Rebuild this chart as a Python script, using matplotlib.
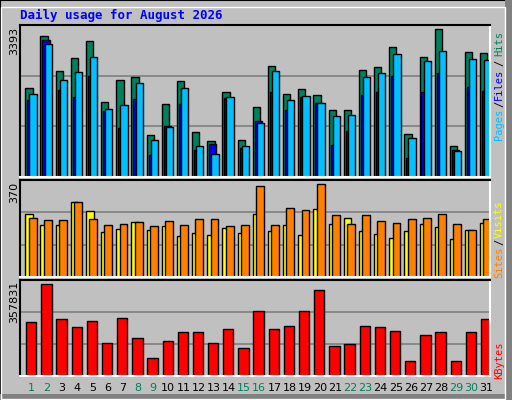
import matplotlib
matplotlib.use("Agg")
import matplotlib.pyplot as plt
from matplotlib.patches import Rectangle
import numpy as np

days = list(range(1, 32))
weekend = [1, 2, 8, 9, 15, 16, 22, 23, 29, 30]
hits = [2034, 3232, 2433, 2725, 3117, 1712, 2218, 2295, 975, 1666, 2203, 1044, 837, 1942, 860, 1620,
        2541, 1896, 2011, 1873, 1551, 1551, 2449, 2518, 2978, 998, 2748, 3393, 722, 2863, 2840]
files = [1765, 3139, 1996, 1835, 2318, 1512, 1121, 1789, 499, 1167, 1673, 614, 768, 1819, 660, 1297,
         1950, 1535, 1842, 1689, 729, 1052, 1873, 1950, 2318, 430, 1950, 2387, 614, 2057, 1973]
pages = [1896, 3055, 2226, 2410, 2756, 1558, 1643, 2157, 860, 1144, 2034, 722, 537, 1827, 706, 1251,
         2433, 1765, 1850, 1689, 1412, 1435, 2287, 2380, 2817, 890, 2656, 2886, 591, 2702, 2679]
sites = [250, 206, 206, 298, 262, 178, 190, 218, 186, 202, 162, 174, 166, 194, 174, 250,
         182, 206, 166, 270, 210, 234, 182, 170, 154, 182, 210, 198, 150, 186, 214]
visits = [234, 226, 226, 298, 230, 206, 210, 218, 202, 222, 206, 230, 230, 202, 206, 362,
          206, 274, 266, 370, 246, 210, 246, 222, 214, 230, 234, 250, 210, 186, 230]
kbytes = [208953, 357831, 220707, 189364, 212871, 130596, 224625, 150185, 71828, 138432, 173693,
          173693, 130596, 185446, 111007, 252050, 185446, 193282, 252050, 334326, 118842, 126678,
          193282, 189364, 177611, 60074, 161939, 173693, 60074, 173693, 220707]

W, H = 512, 400
fig = plt.figure(figsize=(W / 100, H / 100), dpi=100)
fig.patch.set_facecolor("#c0c0c0")
mono = "DejaVu Sans Mono"

def fr(x0, y0, x1, y1):
    return [x0 / W, 1 - y1 / H, (x1 - x0) / W, (y1 - y0) / H]

fig.add_artist(Rectangle((0, 0), 1, 1, transform=fig.transFigure, fill=False, ec="black", lw=1.5))
fig.add_artist(Rectangle((505 / W, 0), 7 / W, 1, transform=fig.transFigure, fc="#808080", ec="none"))
fig.add_artist(Rectangle((0, 0), 1, 6 / H, transform=fig.transFigure, fc="#808080", ec="none"))
fig.add_artist(Rectangle((1 / W, 1 / H), 504 / W, 392 / H, transform=fig.transFigure, fill=False, ec="white", lw=1))

fig.text(20 / W, 1 - 15 / H, "Daily usage for August 2026", color="#0000ff", family=mono,
         weight="bold", fontsize=9, va="center", ha="left")

idx = np.arange(31)

def style(ax, ymax):
    ax.set_facecolor("#c0c0c0")
    ax.set_xlim(0, 31.0)
    ax.set_ylim(0, ymax)
    ax.set_xticks([]); ax.set_yticks([])
    for y in (ymax / 3, 2 * ymax / 3):
        ax.axhline(y, color="#808080", lw=1.2, zorder=0)
    ax.spines["top"].set_color("black"); ax.spines["left"].set_color("black")
    ax.spines["bottom"].set_color("white"); ax.spines["right"].set_color("white")
    for s in ax.spines.values():
        s.set_linewidth(1.5)

ax1 = fig.add_axes(fr(20, 25, 490, 177))
style(ax1, 3393 * 455 / 442)
kw = dict(align="edge", edgecolor="black", linewidth=1, zorder=2)
ax1.bar(idx + 0.35, hits, 0.48, color="#00805c", **kw)
ax1.bar(idx + 0.48, files, 0.48, color="#0000ff", **kw)
ax1.bar(idx + 0.62, pages, 0.48, color="#00c0ff", **kw)

ax2 = fig.add_axes(fr(20, 180, 490, 277))
style(ax2, 370 * 290 / 277)
ax2.bar(idx + 0.35, sites, 0.5, color="#ffff00", **kw)
ax2.bar(idx + 0.57, visits, 0.52, color="#ff8000", **kw)

ax3 = fig.add_axes(fr(20, 280, 490, 376))
style(ax3, 357831 * 287 / 274)
ax3.bar(idx + 0.4, kbytes, 0.68, color="#ff0000", **kw)

for i, d in enumerate(days):
    ax3.text(i + 0.78, -0.12, str(d), transform=ax3.get_xaxis_transform(), ha="center", va="center",
             fontsize=8, color="#00805c" if d in weekend else "black")

def ltxt(y, s):
    fig.text(14 / W, 1 - y / H, s, rotation=90, ha="center", va="top", fontsize=8, color="black")
ltxt(27, "3393"); ltxt(182, "370"); ltxt(281, "357831")

def rtxt(y, s, c):
    fig.text(499 / W, 1 - y / H, s, rotation=90, ha="center", va="center", fontsize=7.5,
             color=c, family=mono)
rtxt(124, "Pages", "#00c0ff"); rtxt(104, "/", "black"); rtxt(84, "Files", "#0000ff")
rtxt(63, "/", "black"); rtxt(43, "Hits", "#00805c")
rtxt(262, "Sites", "#ff8000"); rtxt(242, "/", "black"); rtxt(219, "Visits", "#ffff00")
rtxt(360, "KBytes", "#ff0000")

fig.savefig("out.png", dpi=100, facecolor=fig.get_facecolor())
